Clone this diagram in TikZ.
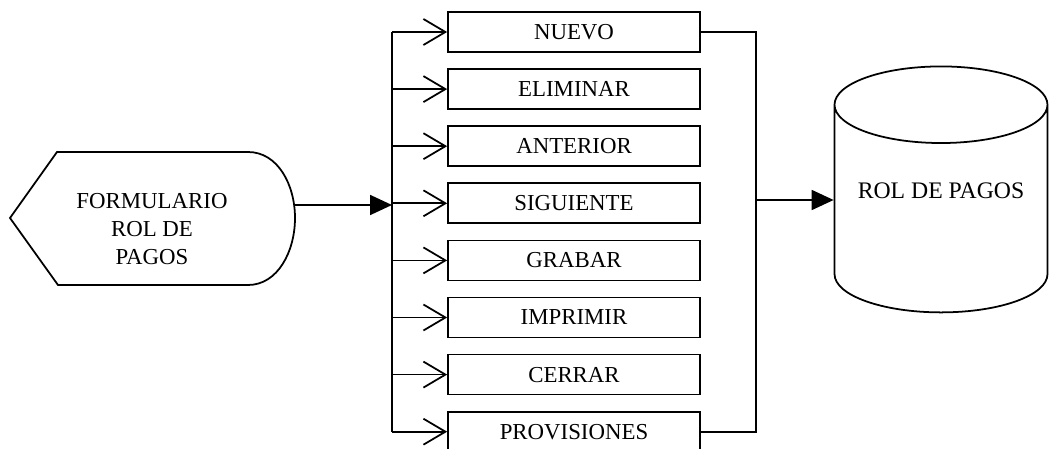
\documentclass[tikz,border=0pt]{standalone}
\usepackage{fontspec}
\setmainfont{Liberation Serif}
\usetikzlibrary{arrows.meta, positioning, shapes.geometric}

\begin{document}
\begin{tikzpicture}[x=0.02cm, y=-0.02cm, line width=1pt,
  font=\fontsize{13}{16}\selectfont,
  opcion/.style={draw, rectangle, minimum width=5.04cm, minimum height=0.8cm, inner sep=0pt,
    text depth=-2pt},
  barb/.style={-{Straight Barb[length=4.4mm, width=5.2mm]}},
  flecha/.style={-{Triangle[length=4.4mm, width=4mm]}}]
  \useasboundingbox (0,0) rectangle (1051,449);
  % Formulario (display shape)
  \draw (10,218) -- (57,152) -- (248,152)
    .. controls (278,152) and (295,185) .. (295,218)
    .. controls (295,251) and (278,285) .. (248,285) -- (58,285) -- cycle;
  \node[align=center] (form) at (152,229) {FORMULARIO\\ROL DE\\PAGOS};
  \coordinate (formout) at (295,205);
  % Opciones
  \foreach \name/\txt [count=\i from 0] in {nuevo/NUEVO, eliminar/ELIMINAR,
      anterior/ANTERIOR, siguiente/SIGUIENTE, grabar/GRABAR,
      imprimir/IMPRIMIR, cerrar/CERRAR, provisiones/PROVISIONES}
    \node[opcion] (\name) at (574,32+57.1*\i) {\txt};
  % Bus de entrada
  \coordinate (bus) at (392,205);
  \draw (nuevo.west -| bus) -- (provisiones.west -| bus);
  \foreach \name in {nuevo, eliminar, anterior, siguiente, grabar, imprimir, cerrar, provisiones}
    \draw[barb] (\name.west -| bus) -- (\name.west);
  \draw[flecha] (formout) -- (bus);
  % Base de datos
  \node[cylinder, shape border rotate=90, draw, aspect=0.46, inner sep=0pt,
    minimum width=4.26cm, minimum height=4.92cm, text height=9pt, text depth=21pt,
    font=\fontsize{13.5}{16}\selectfont] (db) at (941,209) {ROL DE PAGOS};
  % Bus de salida
  \coordinate (salida) at (756,200);
  \draw (nuevo.east) -| (salida |- provisiones.east) -- (provisiones.east);
  \draw[flecha] (salida) -- (salida -| db.west);
\end{tikzpicture}
\end{document}
